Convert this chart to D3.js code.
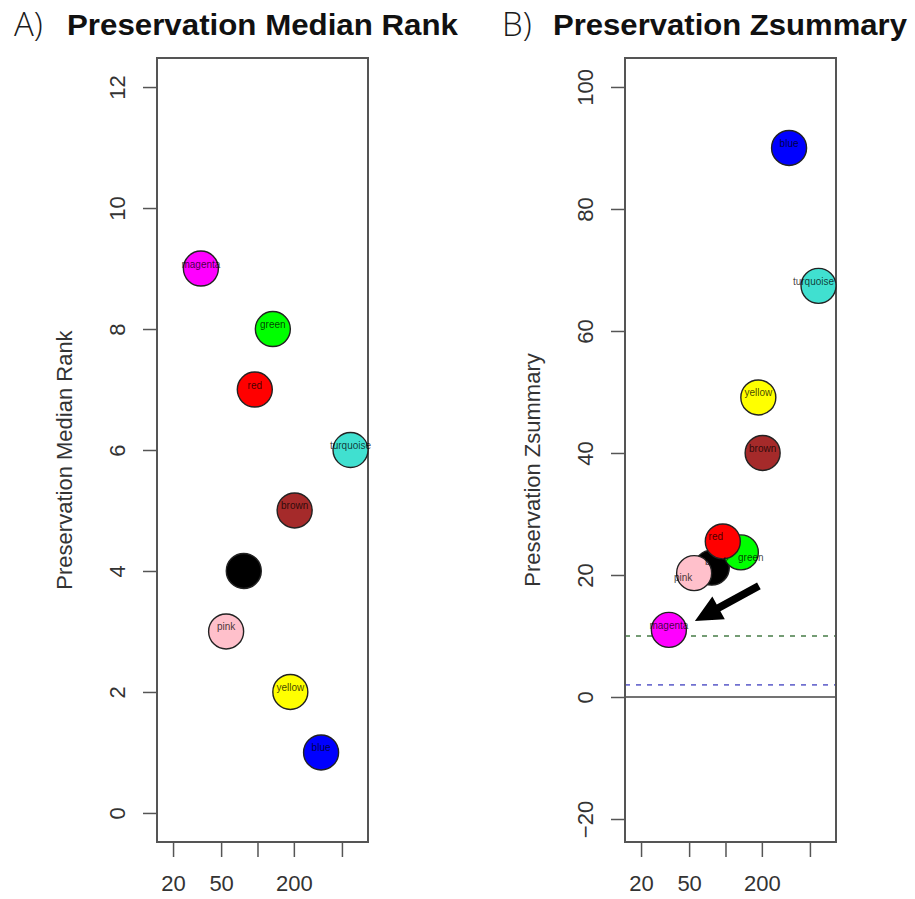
<!DOCTYPE html>
<html>
<head>
<meta charset="utf-8">
<script src="https://cdn.jsdelivr.net/npm/d3@7"></script>
<style>
  html, body { margin: 0; padding: 0; background: #fff; }
  svg { display: block; }
</style>
</head>
<body>
<svg id="chart" width="915" height="899"></svg>
<script>
// Module colours, in plotting order (alphabetical, as the modules were listed)
const modules = ["black", "blue", "brown", "green", "magenta", "pink", "red", "turquoise", "yellow"];
const fillColors = ["#000000", "#0000FF", "#A52A2A", "#00FF00", "#FF00FF", "#FFC0CB", "#FF0000", "#40E0D0", "#FFFF00"];
// Module sizes (x, log scale)
const moduleSizes = [77, 336, 203, 134, 34, 55, 95, 589, 187];
// Panel A: preservation median rank
const medianRank = [4, 1, 5, 8, 9, 3, 7, 6, 2];
// Panel B: preservation Zsummary
const zSummary = [21.2, 90.0, 40.0, 23.7, 11.0, 20.3, 25.5, 67.4, 49.1];

const xTicks = [20, 50, 100, 200, 500];
const xTickLabels = ["20", "50", "", "200", ""];
const yTicksA = [0, 2, 4, 6, 8, 10, 12];
const yTicksB = [-20, 0, 20, 40, 60, 80, 100];
// Zsummary thresholds drawn as reference lines
const thresholds = [0, 2, 10];

// Label nudges (pixels) used to keep overlapping labels readable in panel B
const labelNudgeB = {black: [5, -2], pink: [-11, 9], red: [-7, 0], green: [10, 10], turquoise: [-5, 0]};

const svg = d3.select("#chart");
const FONT = "'Liberation Sans', Arial, Helvetica, sans-serif";

const plotTop = 58, plotBottom = 842, boxW = 211;
const panels = [
  {letter: "A)", title: "Preservation Median Rank", ylab: "Preservation Median Rank",
   left: 157, values: medianRank, yDomain: [-0.48, 12.48], yTicks: yTicksA,
   letterX: 14, titleX: 67, titleW: 391, ylabCenter: 460, nudge: {}},
  {letter: "B)", title: "Preservation Zsummary", ylab: "Preservation Zsummary",
   left: 625, values: zSummary, yDomain: [-23.77, 104.75], yTicks: yTicksB,
   letterX: 502, titleX: 553, titleW: 354, ylabCenter: 470, nudge: labelNudgeB, refLines: true}
];

panels.forEach(p => {
  const g = svg.append("g");
  const x = d3.scaleLog().domain([14.73, 821.8]).range([p.left, p.left + boxW]);
  const y = d3.scaleLinear().domain(p.yDomain).range([plotBottom, plotTop]);

  // Panel letter and title
  g.append("text").attr("x", p.letterX).attr("y", 36)
    .attr("font-family", "'Open Sans', 'DejaVu Sans', sans-serif").attr("font-weight", 300)
    .attr("font-size", 33).attr("fill", "#1a1a1a").text(p.letter);
  g.append("text").attr("x", p.titleX).attr("y", 35)
    .attr("font-family", FONT).attr("font-weight", "bold").attr("font-size", 29)
    .attr("textLength", p.titleW).attr("lengthAdjust", "spacingAndGlyphs")
    .attr("fill", "#111").text(p.title);

  // Reference lines (panel B)
  if (p.refLines) {
    const styles = {0: {c: "#444", d: null, w: 1.6}, 2: {c: "#7070d0", d: "5,6", w: 1.8}, 10: {c: "#749c74", d: "5,6", w: 1.8}};
    thresholds.forEach(t => {
      const s = styles[t];
      g.append("line").attr("x1", p.left).attr("x2", p.left + boxW)
        .attr("y1", y(t)).attr("y2", y(t))
        .attr("stroke", s.c).attr("stroke-width", s.w)
        .attr("stroke-dasharray", s.d);
    });
  }

  // Axes
  const yAxis = d3.axisLeft(y).tickValues(p.yTicks).tickSize(14).tickPadding(5).tickFormat(d3.format("d"));
  const yg = g.append("g").attr("transform", `translate(${p.left},0)`).call(yAxis);
  yg.select(".domain").remove();
  yg.selectAll(".tick line").attr("stroke", "#555").attr("stroke-width", 1.5);
  yg.selectAll(".tick text")
    .attr("font-family", FONT).attr("font-size", 22).attr("fill", "#333")
    .attr("x", null).attr("dy", null)
    .attr("transform", "translate(-32,0) rotate(-90)")
    .attr("text-anchor", "middle").attr("dominant-baseline", "auto")
    .text(d => d < 0 ? "\u2212" + Math.abs(d) : d);

  const xAxis = d3.axisBottom(x).tickValues(xTicks).tickSize(15).tickPadding(18)
    .tickFormat((d, i) => xTickLabels[i]);
  const xg = g.append("g").attr("transform", `translate(0,${plotBottom})`).call(xAxis);
  xg.select(".domain").remove();
  xg.selectAll(".tick line").attr("stroke", "#555").attr("stroke-width", 1.5);
  xg.selectAll(".tick text").attr("font-family", FONT).attr("font-size", 22).attr("fill", "#333");

  // Y axis title
  g.append("text")
    .attr("transform", `translate(${p.left - 85},${p.ylabCenter}) rotate(-90)`)
    .attr("text-anchor", "middle").attr("font-family", FONT).attr("font-size", 22)
    .attr("fill", "#333").text(p.ylab);

  // Plot box
  g.append("rect").attr("x", p.left).attr("y", plotTop).attr("width", boxW).attr("height", plotBottom - plotTop)
    .attr("fill", "none").attr("stroke", "#555").attr("stroke-width", 2);

  // Points
  const pts = modules.map((m, i) => ({m, c: fillColors[i], sx: moduleSizes[i], v: p.values[i]}));
  g.selectAll("circle.pt").data(pts).join("circle").attr("class", "pt")
    .attr("cx", d => x(d.sx)).attr("cy", d => y(d.v)).attr("r", 17.5)
    .attr("fill", d => d.c).attr("stroke", "#222").attr("stroke-width", 1.4);

  // Point labels
  g.selectAll("text.lbl").data(pts).join("text").attr("class", "lbl")
    .attr("x", d => x(d.sx) + (p.nudge[d.m] ? p.nudge[d.m][0] : 0))
    .attr("y", d => y(d.v) + (p.nudge[d.m] ? p.nudge[d.m][1] : 0) - 1)
    .attr("text-anchor", "middle").attr("font-family", FONT).attr("font-size", 10)
    .attr("fill", "#000").attr("fill-opacity", 0.75).text(d => d.m);

  // Arrow pointing at the magenta module (panel B)
  if (p.refLines) {
    const mi = modules.indexOf("magenta");
    const cx = x(moduleSizes[mi]), cy = y(zSummary[mi]);
    const tip = [cx + 26, cy - 9];
    const tail = [tip[0] + 64, tip[1] - 35];
    const ang = Math.atan2(tail[1] - tip[1], tail[0] - tip[0]);
    const headLen = 27, headHalf = 13, shaftHalf = 3.8;
    const ux = Math.cos(ang), uy = Math.sin(ang), nx = -uy, ny = ux;
    const bx = tip[0] + ux * headLen, by = tip[1] + uy * headLen;
    const path = d3.path();
    path.moveTo(tip[0], tip[1]);
    path.lineTo(bx + nx * headHalf, by + ny * headHalf);
    path.lineTo(bx + nx * shaftHalf, by + ny * shaftHalf);
    path.lineTo(tail[0] + nx * shaftHalf, tail[1] + ny * shaftHalf);
    path.lineTo(tail[0] - nx * shaftHalf, tail[1] - ny * shaftHalf);
    path.lineTo(bx - nx * shaftHalf, by - ny * shaftHalf);
    path.lineTo(bx - nx * headHalf, by - ny * headHalf);
    path.closePath();
    g.append("path").attr("d", path.toString()).attr("fill", "#000");
  }
});
</script>
</body>
</html>
